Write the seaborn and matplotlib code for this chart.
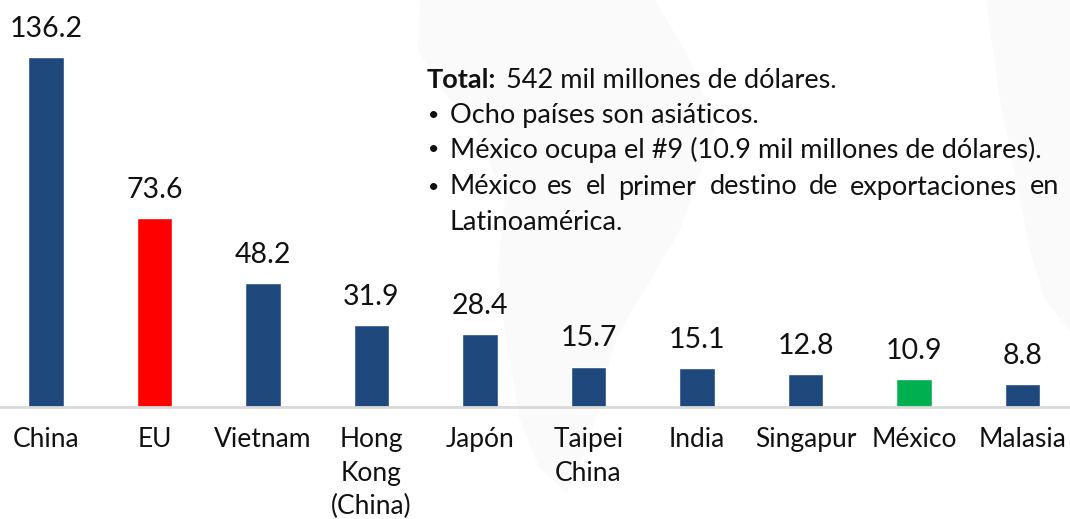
import matplotlib
matplotlib.use("Agg")
import matplotlib.pyplot as plt
from matplotlib.patches import Polygon
import seaborn as sns
import pandas as pd

categories = ["China", "EU", "Vietnam", "Hong\nKong\n(China)", "Japón", "Taipei\nChina", "India", "Singapur", "México", "Malasia"]
values = [136.2, 73.6, 48.2, 31.9, 28.4, 15.7, 15.1, 12.8, 10.9, 8.8]
colors = ["#1F497D", "#FF0000", "#1F497D", "#1F497D", "#1F497D", "#1F497D", "#1F497D", "#1F497D", "#00B050", "#1F497D"]
labels = ["136.2", "73.6", "48.2", "31.9", "28.4", "15.7", "15.1", "12.8", "10.9", "8.8"]
total_bold = "Total:"
total_text = "542 mil millones de dólares."
bullets = ["Ocho países son asiáticos.", "México ocupa el #9 (10.9 mil millones de dólares)."]
justified_words = ["México", "es", "el", "primer", "destino", "de", "exportaciones", "en"]
last_line = "Latinoamérica."

sns.set_theme(style="white")
plt.rcParams['font.family'] = ['Lato', 'DejaVu Sans']
W, H = 1070, 519
fig = plt.figure(figsize=(W/100, H/100), dpi=100, facecolor="white")

# faint map watermark behind the chart
def shape(points):
    return Polygon([(x/W, 1-y/H) for x, y in points], closed=True, transform=fig.transFigure,
                   facecolor="#FAFAFA", edgecolor="none", zorder=-5)
fig.add_artist(shape([(420, 0), (418, 50), (437, 83), (478, 133), (505, 200), (498, 267), (505, 333),
                      (519, 417), (539, 467), (567, 493), (590, 440), (615, 340), (680, 230),
                      (715, 130), (690, 60), (655, 0)]))
fig.add_artist(shape([(986, 0), (1000, 100), (1030, 250), (1045, 300), (1070, 330), (1070, 0)]))

ax = fig.add_axes([-8.25/W, 1-407/H, 1085/W, 350/H])
ax.patch.set_alpha(0)
df = pd.DataFrame({"c": categories, "v": values})
sns.barplot(data=df, x="c", y="v", hue="c", palette=colors, legend=False, width=0.33, ax=ax, saturation=1)
ax.set_xlim(-0.5, 9.5)
ax.set_ylim(0, 136.2)
ax.set_xlabel(""); ax.set_ylabel("")
ax.set_yticks([])
for s in ["top", "left", "right"]:
    ax.spines[s].set_visible(False)
ax.spines["bottom"].set_color("#D9D9D9")
ax.spines["bottom"].set_linewidth(2)
ax.tick_params(axis="x", length=0, pad=14.5)
for t in ax.get_xticklabels():
    t.set_fontsize(19); t.set_color("#111111"); t.set_linespacing(1.42)
for i, (v, l) in enumerate(zip(values, labels)):
    ax.annotate(l, (i, v), xytext=(0, 11), textcoords="offset points", ha="center", va="bottom", fontsize=20.5, color="#111111")

fs = 19.5
def put(x, y, s, size=fs, **kw):
    fig.text(x/W, 1-y/H, s, fontsize=size, va="center", color="#111111", **kw)
put(427, 80, total_bold, fontweight="bold")
put(506, 80, total_text)
for y in (116, 150, 187):
    put(428, y, "•", size=14)
put(450, 116, bullets[0])
put(450, 150, bullets[1])
for x, w in zip([450, 547, 586, 618, 710, 809, 850, 1030], justified_words):
    put(x, 187, w)
put(450, 222, last_line)
fig.savefig("out.png", dpi=100, facecolor="white")
